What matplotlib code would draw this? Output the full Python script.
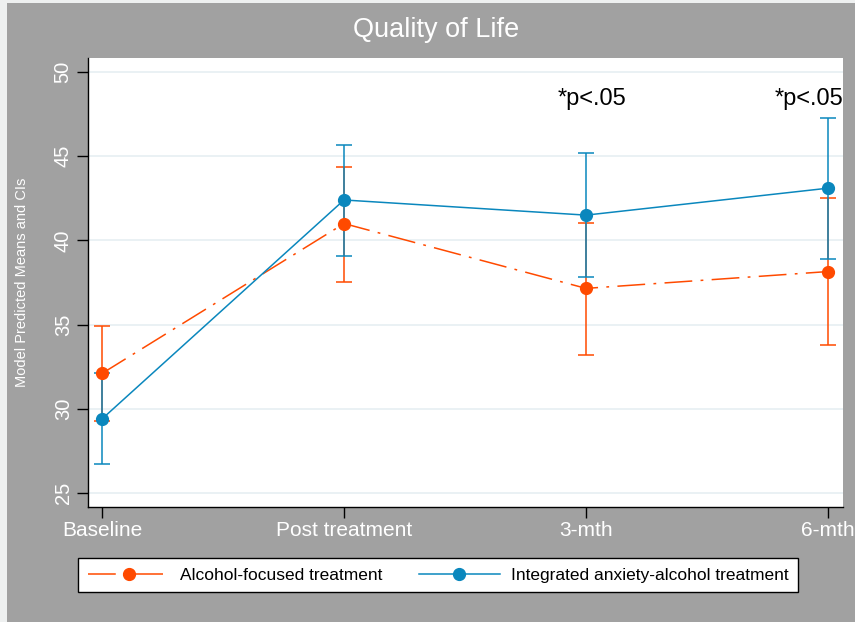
import matplotlib
matplotlib.use('Agg')
from matplotlib import pyplot as plt
from matplotlib.patches import Rectangle

# data
timepoints = ['Baseline', 'Post treatment', '3-mth', '6-mth']
alc_mean = [32.1, 41.0, 37.15, 38.15]
alc_low = [29.3, 37.55, 33.2, 33.8]
alc_high = [34.9, 44.35, 41.05, 42.5]
int_mean = [29.4, 42.4, 41.5, 43.1]
int_low = [26.7, 39.1, 37.8, 38.9]
int_high = [32.1, 45.65, 45.2, 47.25]
sig_labels = ['', '', '*p<.05', '*p<.05']

plt.rcParams['font.family'] = ['Liberation Sans', 'DejaVu Sans']
plt.rcParams['lines.scale_dashes'] = False

orange = '#ff4a00'
blue = '#0a87bd'
bg = '#a1a1a1'

fig = plt.figure(figsize=(8.55, 6.22), dpi=100)
fig.patch.set_facecolor('#eef0f0')
fig.patches.append(Rectangle((7 / 855, 0), 1, 1 - 3 / 622, transform=fig.transFigure,
                             facecolor=bg, edgecolor='none', zorder=-5))

ax = fig.add_axes([88 / 855, 115 / 622, 755 / 855, 449 / 622])
ax.set_facecolor('white')
ax.set_zorder(1)

x = list(range(len(timepoints)))

# 置信区间
ax.errorbar(x, alc_mean,
            yerr=[[m - l for m, l in zip(alc_mean, alc_low)], [h - m for m, h in zip(alc_mean, alc_high)]],
            fmt='none', ecolor=orange, elinewidth=1.1, capsize=6, capthick=1.1, zorder=3)
ax.errorbar(x, int_mean,
            yerr=[[m - l for m, l in zip(int_mean, int_low)], [h - m for m, h in zip(int_mean, int_high)]],
            fmt='none', ecolor=blue, elinewidth=1.1, capsize=6, capthick=1.1, zorder=4)

ax.plot(x, alc_mean, color=orange, lw=1.1, linestyle=(0, (20, 6, 2, 6)),
        marker='o', markersize=8.5, label='Alcohol-focused treatment', zorder=5)
ax.plot(x, int_mean, color=blue, lw=1.1, linestyle='-',
        marker='o', markersize=8.5, label='Integrated anxiety-alcohol treatment', zorder=6)

# 显著性标注 (最后一个靠右，避免被裁掉)
for xi, lab in zip(x, sig_labels):
    if lab:
        dx = -14 if xi == x[-1] else 4
        ax.annotate(lab, (xi, 47.9), xytext=(dx, -2), textcoords='offset points',
                    ha='center', va='bottom', fontsize=17, color='black', zorder=7,
                    annotation_clip=False)

ax.set_xlim(-0.058, 3.062)
ax.set_ylim(24.17, 50.83)
ax.set_yticks([25, 30, 35, 40, 45, 50])
ax.set_xticks(x)
ax.set_xticklabels(timepoints)
ax.tick_params(axis='x', colors='black', labelcolor='white', labelsize=15, length=8, width=1, pad=2)
ax.tick_params(axis='y', colors='black', labelcolor='white', labelsize=14.5, length=8, width=1, pad=3)
for t in ax.get_yticklabels():
    t.set_rotation(90)
    t.set_va('center')
ax.grid(axis='y', color='#e6eff2', lw=1.2)
ax.set_axisbelow(True)

for s in ['top', 'right']:
    ax.spines[s].set_visible(False)
for s in ['left', 'bottom']:
    ax.spines[s].set_linewidth(1)
    ax.spines[s].set_color('black')

ax.set_ylabel('Model Predicted Means and CIs', color='white', fontsize=10.5)
ax.yaxis.set_label_coords(-59 / 755, 0.5)

fig.text(436 / 855, 1 - 30 / 622, 'Quality of Life', color='white', fontsize=19.5, ha='center', va='center')

leg = fig.legend(loc='center', bbox_to_anchor=(438 / 855, 1 - 575 / 622), ncol=2, fontsize=12.5,
                 frameon=True, fancybox=False, edgecolor='black', framealpha=1,
                 handlelength=4.7, handletextpad=0.6, columnspacing=2.1, borderpad=0.55)
leg.get_frame().set_linewidth(1)

plt.savefig('out.png', dpi=100, facecolor=fig.get_facecolor())
